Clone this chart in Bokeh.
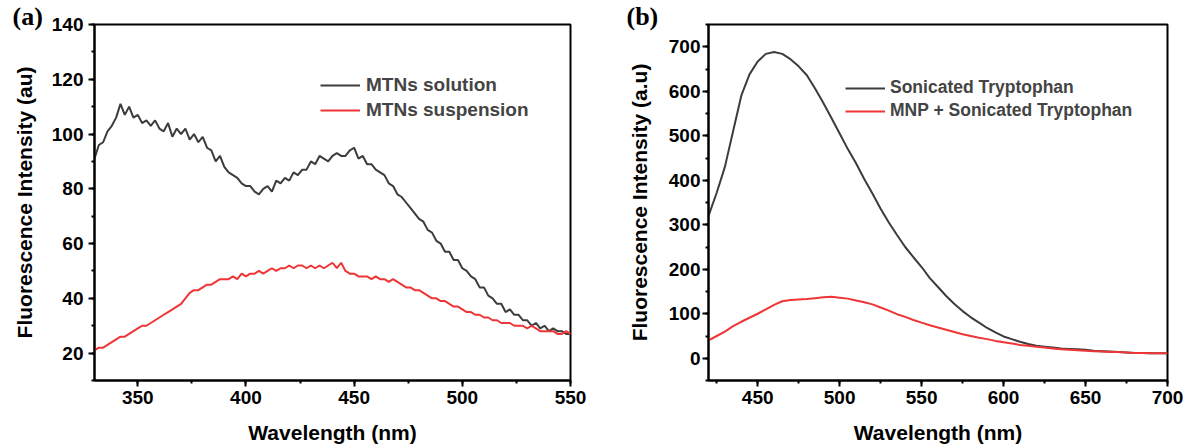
from bokeh.plotting import figure
from bokeh.models import Legend, LegendItem, Title, SingleIntervalTicker, Range1d
from bokeh.layouts import row
from bokeh.embed import file_html
from bokeh.resources import INLINE

# ---------------- data: panel (a) ----------------
wl_a = list(range(330, 551, 2))
mtns_solution = [91, 96, 97, 101, 103, 106, 111, 107, 110, 106,
                 107, 104, 105, 103, 105, 102, 101, 104, 99, 102,
                 100, 102, 98, 100, 97, 99, 95, 94, 90, 92,
                 88, 86, 85, 84, 82, 81, 81, 79, 78, 80,
                 81, 79, 83, 82, 84, 83, 86, 85, 87, 87,
                 90, 89, 92, 91, 90, 92, 93, 92, 92, 94,
                 95, 91, 92, 89, 89, 87, 86, 85, 82, 81,
                 78, 77, 75, 73, 71, 69, 68, 65, 64, 61,
                 60, 57, 57, 54, 54, 51, 50, 48, 47, 44,
                 44, 41, 40, 38, 38, 35, 36, 34, 34, 32,
                 32, 30, 31, 29, 30, 28, 29, 28, 28, 27, 27]
mtns_suspension = [21, 22, 22, 23, 24, 25, 26, 26, 27, 28,
                   29, 30, 30, 31, 32, 33, 34, 35, 36, 37,
                   38, 40, 42, 43, 43, 44, 45, 45, 46, 47,
                   47, 47, 48, 47, 49, 48, 49, 49, 50, 49,
                   50, 51, 50, 51, 51, 52, 51, 52, 52, 51,
                   52, 51, 52, 51, 52, 53, 51, 53, 50, 49,
                   49, 48, 48, 48, 47, 48, 47, 47, 46, 47,
                   46, 45, 44, 44, 43, 43, 42, 41, 40, 40,
                   39, 39, 38, 37, 37, 36, 35, 35, 34, 34,
                   33, 33, 32, 32, 31, 31, 31, 30, 30, 30,
                   29, 30, 29, 28, 28, 28, 28, 27, 27, 28, 27]

# ---------------- data: panel (b) ----------------
wl_b = list(range(420, 701, 5))
sonicated = [320, 372, 430, 510, 590, 638, 667, 684, 688, 684, 672, 656, 636, 606, 574, 540, 505, 470, 438, 403,
             370, 336, 305, 277, 250, 227, 205, 180, 160, 140, 122, 106, 92, 80, 68, 58, 49, 43, 37, 32,
             28, 26, 24, 22, 21, 20, 19, 17, 16, 15, 14, 13, 12, 12, 11, 11, 11]
mnp_sonicated = [40, 50, 60, 72, 82, 91, 100, 110, 120, 128, 131, 132, 133, 135, 137, 138, 136, 134, 130, 126,
                 121, 114, 107, 99, 93, 86, 80, 74, 69, 64, 59, 54, 50, 46, 43, 39, 36, 33, 30, 28,
                 26, 24, 22, 20, 19, 18, 17, 16, 15, 14, 14, 13, 12, 12, 11, 11, 11]

labels_a = ["MTNs solution", "MTNs suspension"]
labels_b = ["Sonicated Tryptophan", "MNP + Sonicated Tryptophan"]

BLACK = "#3c3c3c"
RED = "#ef3535"
FONT = "Liberation Sans"


def style(p, xint, yint, xlabel, ylabel, ystand, ylab_standoff):
    for ax in (p.xaxis[0], p.yaxis[0]):
        ax.axis_line_width = 2
        ax.axis_line_color = "black"
        ax.major_tick_line_width = 2
        ax.minor_tick_line_width = 2
        ax.major_tick_out = 6
        ax.major_tick_in = 0
        ax.minor_tick_out = 3
        ax.minor_tick_in = 0
        ax.major_label_text_font = FONT
        ax.major_label_text_font_style = "bold"
        ax.major_label_text_font_size = "19px"
        ax.major_label_text_color = "black"
        ax.axis_label_text_font = FONT
        ax.axis_label_text_font_style = "bold"
        ax.axis_label_text_font_size = "21px"
        ax.axis_label_text_color = "black"
    p.xaxis[0].ticker = SingleIntervalTicker(interval=xint, num_minor_ticks=2)
    p.yaxis[0].ticker = SingleIntervalTicker(interval=yint, num_minor_ticks=2)
    p.xaxis[0].axis_label = xlabel
    p.yaxis[0].axis_label = ylabel
    p.xaxis[0].major_label_standoff = 4
    p.xaxis[0].axis_label_standoff = 14
    p.yaxis[0].axis_label_standoff = ystand
    p.yaxis[0].major_label_standoff = ylab_standoff
    p.xgrid.visible = False
    p.ygrid.visible = False
    p.outline_line_color = "black"
    p.outline_line_width = 2
    p.outline_line_alpha = 1


def panel_title(p, text):
    p.add_layout(Title(text=text, align="left", offset=-82, standoff=-13, vertical_align="bottom",
                       text_font="Liberation Serif", text_font_style="bold", text_font_size="26px",
                       text_color="black"), "above")


# ---------------- panel (a) ----------------
pa = figure(width=600, height=446, output_backend="svg", toolbar_location=None,
            x_range=Range1d(330, 550), y_range=Range1d(10, 140),
            min_border_left=94, min_border_right=30, min_border_top=24, min_border_bottom=65)
style(pa, 50, 20, "Wavelength (nm)", "Fluorescence Intensity (au)", 13, 5)
ra1 = pa.line(wl_a, mtns_solution, line_color=BLACK, line_width=2)
ra2 = pa.line(wl_a, mtns_suspension, line_color=RED, line_width=2)
lega = Legend(items=[LegendItem(label=labels_a[0], renderers=[ra1]),
                     LegendItem(label=labels_a[1], renderers=[ra2])],
              location=(226, 259), border_line_alpha=0, background_fill_alpha=0,
              label_text_font=FONT, label_text_font_style="bold", label_text_font_size="19px",
              glyph_width=40, glyph_height=20, label_height=20, spacing=3, padding=0, margin=0,
              label_standoff=6)
pa.add_layout(lega)
panel_title(pa, "(a)")

# ---------------- panel (b) ----------------
pb = figure(width=584, height=446, output_backend="svg", toolbar_location=None,
            x_range=Range1d(420, 700), y_range=Range1d(-50, 750),
            min_border_left=108, min_border_right=17, min_border_top=24, min_border_bottom=65)
style(pb, 50, 100, "Wavelength (nm)", "Fluorescence Intensity (a.u)", 15, 2)
rb1 = pb.line(wl_b, sonicated, line_color=BLACK, line_width=2)
rb2 = pb.line(wl_b, mnp_sonicated, line_color=RED, line_width=2)
legb = Legend(items=[LegendItem(label=labels_b[0], renderers=[rb1]),
                     LegendItem(label=labels_b[1], renderers=[rb2])],
              location=(137, 259), border_line_alpha=0, background_fill_alpha=0,
              label_text_font=FONT, label_text_font_style="bold", label_text_font_size="17.5px",
              glyph_width=40, glyph_height=20, label_height=20, spacing=2, padding=0, margin=0,
              label_standoff=5)
pb.add_layout(legb)
panel_title(pb, "(b)")

layout = row(pa, pb)
open("out.html", "w").write(file_html(layout, INLINE))
